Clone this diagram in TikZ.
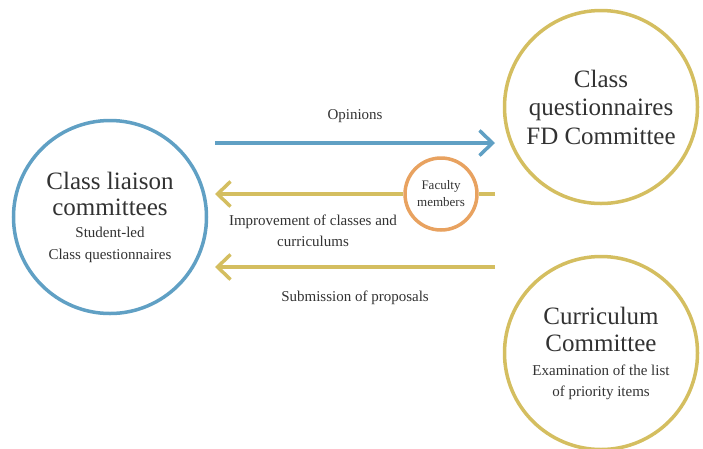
\documentclass[tikz,border=0pt]{standalone}
\usepackage{fontspec}
\setmainfont{Liberation Serif}
\usetikzlibrary{arrows.meta}

\definecolor{liaisonblue}{RGB}{96,160,196}
\definecolor{goldline}{RGB}{212,190,96}
\definecolor{facultyorange}{RGB}{232,162,96}
\definecolor{inktext}{RGB}{50,50,50}

\newcommand{\titlefont}{\fontsize{25}{28.5}\selectfont}

\begin{document}
\begin{tikzpicture}[x=1pt, y=-1pt,
    committee/.style={circle, draw, line width=3.5pt, minimum size=193pt, inner sep=0pt,
        align=center, text=inktext, font=\fontsize{15}{22}\selectfont},
    flow/.style={line width=3.5pt, -{Straight Barb[length=13pt,width=25pt,line width=3.5pt]}},
    caption/.style={text=inktext, align=center, font=\fontsize{15}{21}\selectfont}]
    \useasboundingbox (0,0) rectangle (703,448);

    % committees
    \node[committee, draw=liaisonblue] (liaison) at (110,217)
        {{\titlefont Class liaison}\\[4pt]{\titlefont committees}\\Student-led\\Class questionnaires};
    \node[committee, draw=goldline, font=\titlefont] (fdc) at (601,107)
        {Class\\questionnaires\\FD Committee};
    \node[committee, draw=goldline, font=\fontsize{15}{21}\selectfont] (curriculum) at (601,353)
        {{\titlefont Curriculum}\\[6pt]{\titlefont Committee}\\[3pt]Examination of the list\\of priority items};

    % arrow ends
    \coordinate (opinionsL) at (215,143);
    \coordinate (opinionsR) at (495,143);
    \coordinate (improveL) at (215,194);
    \coordinate (improveR) at (495,194);
    \coordinate (proposalL) at (215,267);
    \coordinate (proposalR) at (495,267);

    \node[circle, draw=facultyorange, line width=3.5pt, minimum size=72pt, inner sep=0pt, align=center,
        text=inktext, font=\fontsize{13}{17}\selectfont] (faculty) at (441,194) {Faculty\\members};

    \draw[flow, liaisonblue] (opinionsL) -- (opinionsR);
    \draw[goldline, line width=3.5pt] (improveR) -- (faculty.east);
    \draw[flow, goldline] (faculty.west) -- (improveL);
    \draw[flow, goldline] (proposalR) -- (proposalL);

    % labels
    \node[caption] (opinions) at (355,116) {Opinions};
    \node[caption] (improvement) at (313,231) {Improvement of classes and\\curriculums};
    \node[caption] (submission) at (355,298) {Submission of proposals};
\end{tikzpicture}
\end{document}
